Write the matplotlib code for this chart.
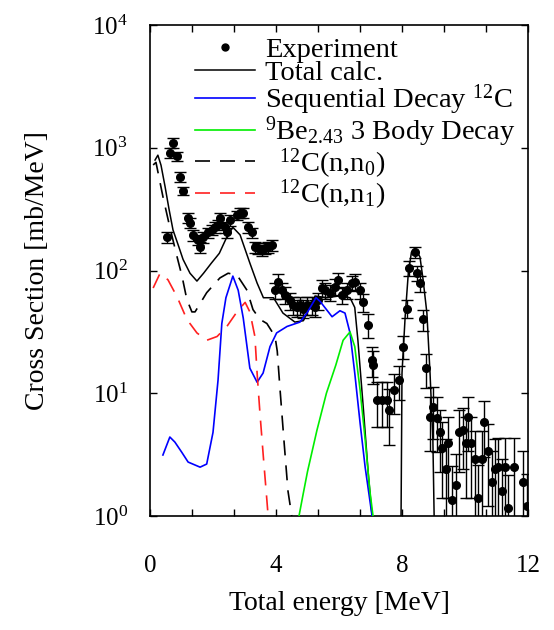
import matplotlib
matplotlib.use("Agg")
import matplotlib.pyplot as plt
from matplotlib.lines import Line2D
from matplotlib.ticker import MultipleLocator, FixedLocator, NullLocator, LogLocator

plt.rcParams.update({
    "font.family": "Liberation Serif",
    "mathtext.fontset": "custom",
    "mathtext.rm": "Liberation Serif",
    "mathtext.it": "Liberation Serif:italic",
    "mathtext.default": "regular",
    "axes.linewidth": 1.2,
})

# experimental points
exp_e = [0.54, 0.63, 0.73, 0.86, 0.95, 1.05, 1.21, 1.27, 1.38, 1.52,
         1.59, 1.68, 1.84, 1.97, 2.06, 2.16, 2.22, 2.38, 2.44, 2.54,
         2.76, 2.86, 2.95, 3.11, 3.24, 3.33, 3.43, 3.56, 3.65, 3.75,
         3.87, 3.97, 4.06, 4.19, 4.29, 4.44, 4.54, 4.67, 4.76, 4.86,
         4.98, 5.14, 5.24, 5.33, 5.46, 5.56, 5.71, 5.87, 5.97, 6.10,
         6.25, 6.41, 6.51, 6.67, 6.76, 6.92, 7.05, 7.08, 7.20, 7.36,
         7.52, 7.59, 7.75, 7.90, 8.03, 8.15, 8.23, 8.41, 8.48, 8.57,
         8.66, 8.76, 8.89, 8.99, 9.10, 9.20, 9.27, 9.40, 9.46, 9.58,
         9.71, 9.81, 9.93, 10.03, 10.10, 10.20, 10.32, 10.41, 10.54, 10.60,
         10.73, 10.86, 10.95, 11.05, 11.17, 11.27, 11.37, 11.56, 11.84, 11.97]
exp_y = [187, 910, 1100, 850, 580, 445, 268, 245, 195, 178,
         155, 187, 204, 214, 225, 234, 268, 225, 204, 257,
         282, 295, 295, 225, 204, 155, 152, 147, 152, 155,
         161, 69, 81, 69, 63, 57, 52, 50, 52, 49,
         52, 52, 50, 57, 72, 69, 66, 74, 84, 63,
         69, 79, 81, 69, 55, 36, 18.6, 17, 8.8, 8.8,
         8.8, 7.3, 10.6, 12.8, 24, 49, 105, 141, 95, 79,
         40, 16, 6.4, 7.7, 6.3, 4.8, 3.6, 2.4, 3.9, 1.35,
         1.8, 4.8, 5.0, 3.9, 6.4, 3.9, 2.9, 1.4, 2.9, 5.8,
         3.4, 1.9, 2.4, 2.5, 1.6, 2.5, 1.16, 2.5, 1.9, 1.2]
exp_err = [20, 80, 110, 75, 50, 35, 25, 22, 20, 18,
           16, 18, 20, 20, 22, 22, 25, 22, 20, 25,
           25, 25, 25, 22, 20, 16, 16, 15, 16, 16,
           16, 10, 12, 10, 10, 9, 9, 8, 9, 8,
           9, 9, 8, 9, 11, 10, 10, 11, 12, 10,
           10, 11, 12, 10, 9, 8, 5, 5, 3.5, 3.5,
           3.5, 3.5, 3.8, 4, 5, 8, 14, 15, 13, 12,
           8, 5, 3, 3.5, 3, 2.5, 2.2, 1.8, 2.5, 1.2,
           1.4, 2.5, 2.6, 2.5, 3, 2.5, 2, 1.2, 2, 2.8,
           2.2, 1.5, 1.8, 1.8, 1.3, 1.8, 1.0, 1.8, 1.5, 1.0]

# total calculation
tot_e = [0.16, 0.25, 0.35, 0.48, 0.6, 0.73, 0.9, 1.05, 1.27, 1.49,
         1.7, 1.95, 2.2, 2.45, 2.63, 2.86, 3.17, 3.4, 3.6, 3.92,
         4.22, 4.6, 4.87, 5.24, 5.6, 6.0, 6.35, 6.5, 6.6, 6.77,
         6.93, 7.05, 7.2, 7.9, 7.97, 8.0, 8.1, 8.2, 8.3, 8.41,
         8.57, 8.67, 8.79, 8.89, 8.98, 9.02, 9.15]
tot_y = [794, 870, 720, 480, 320, 214, 160, 123, 95, 82,
         95, 115, 138, 190, 225, 195, 115, 79, 60, 60,
         45, 38, 39, 62, 60, 62, 60, 50, 27, 7.7,
         2.2, 1.0, 0.3, 0.3, 1.0, 14.6, 42, 95, 141, 152,
         129, 84, 45, 14.6, 4.2, 1.0, 0.3]

# sequential decay 12C
seq_e = [0.41, 0.63, 0.79, 1.01, 1.21, 1.59, 1.80, 2.0, 2.16, 2.28,
         2.41, 2.63, 2.8, 2.96, 3.17, 3.4, 3.59, 3.81, 4.02, 4.35,
         4.76, 4.98, 5.27, 5.4, 5.78, 6.03, 6.19, 6.35, 6.5, 6.67,
         6.83, 7.05]
seq_y = [3.14, 4.4, 4.0, 3.3, 2.75, 2.5, 2.65, 4.8, 12.8, 37,
         60, 90, 69, 41, 16, 12.3, 14.6, 24, 31, 35,
         38, 45, 60, 56, 42, 47, 45, 31, 14.6, 5.7,
         2.5, 1.0]

# 9Be 3 body decay
be_e = [4.73, 4.86, 5.0, 5.3, 5.6, 5.9, 6.13, 6.35, 6.5, 6.67, 6.83, 6.98, 7.08]
be_y = [1.0, 1.5, 2.3, 5, 10, 17, 27, 31.6, 24, 10.6, 4.2, 1.6, 1.0]

# 12C(n,n0)
n0_e = [0.1, 0.19, 0.41, 0.63, 0.86, 1.02, 1.17, 1.33, 1.43, 1.8,
        2.22, 2.48, 2.76, 3.08, 3.27, 3.49, 3.71, 3.97, 4.04, 4.13,
        4.25, 4.38, 4.5]
n0_y = [724, 760, 400, 225, 129, 89, 58, 46, 46, 66,
        87, 95, 92, 69, 48, 40, 37, 29, 22, 10.6,
        4.2, 1.6, 1.0]

# 12C(n,n1)
n1_e = [0.1, 0.32, 0.57, 0.86, 1.17, 1.49, 1.8, 2.13, 2.44, 2.76,
        3.02, 3.17, 3.33, 3.4, 3.49, 3.6, 3.71, 3.75]
n1_y = [72, 95, 84, 61, 40, 31, 27, 29, 35, 46,
        55, 46, 29, 14.6, 6.9, 3.0, 1.35, 1.0]

labels = ["Experiment", "Total calc.", r"Sequential Decay $^{12}$C",
          r"$^{9}$Be$_{2.43}$ 3 Body Decay", r"  $^{12}$C(n,n$_0$)",
          r"  $^{12}$C(n,n$_1$)"]

fig = plt.figure(figsize=(5.54, 6.30), dpi=100)
ax = fig.add_axes([150 / 554, 1 - 516 / 630, 378 / 554, 491 / 630])

dash = (9, 6)
ax.errorbar(exp_e, exp_y, yerr=exp_err, fmt="o", color="black", ms=5.5,
            elinewidth=1.0, capsize=4, capthick=1.0, zorder=3)
ax.plot(tot_e, tot_y, color="black", lw=1.1, zorder=4)
ax.plot(seq_e, seq_y, color="#0000ff", lw=1.2, zorder=4)
ax.plot(be_e, be_y, color="#00ee00", lw=1.2, zorder=4)
ax.plot(n0_e, n0_y, color="black", lw=1.2, dashes=dash, zorder=4)
ax.plot(n1_e, n1_y, color="#ff2020", lw=1.2, dashes=dash, zorder=4)

ax.set_yscale("log")
ax.set_xlim(0, 12)
ax.set_ylim(1, 1e4)

ax.xaxis.set_major_locator(FixedLocator([0, 4, 8, 12]))
ax.xaxis.set_minor_locator(MultipleLocator(4 / 3))
ax.yaxis.set_major_locator(LogLocator(base=10, numticks=10))
ax.yaxis.set_minor_locator(NullLocator())
ax.tick_params(which="both", direction="in", top=True, right=True,
               length=5, width=1.0, labelsize=18)
ax.tick_params(axis="x", pad=28)
ax.tick_params(axis="y", pad=16)

ax.set_xlabel("Total energy [MeV]", fontsize=20, labelpad=10)
ax.set_ylabel("Cross Section [mb/MeV]", fontsize=20, labelpad=30)

handles = [
    Line2D([], [], ls="none", marker="o", ms=5, color="black"),
    Line2D([], [], color="black", lw=1.1),
    Line2D([], [], color="#0000ff", lw=1.2),
    Line2D([], [], color="#00ee00", lw=1.2),
    Line2D([], [], color="black", lw=1.2, dashes=dash),
    Line2D([], [], color="#ff2020", lw=1.2, dashes=dash),
]
ax.legend(handles, labels, loc="upper left", bbox_to_anchor=(0.119, 0.976),
          frameon=False, fontsize=20.5, handlelength=2.1, handletextpad=0.35,
          labelspacing=-0.1, borderpad=0, borderaxespad=0)

fig.savefig("out.png", dpi=100)
